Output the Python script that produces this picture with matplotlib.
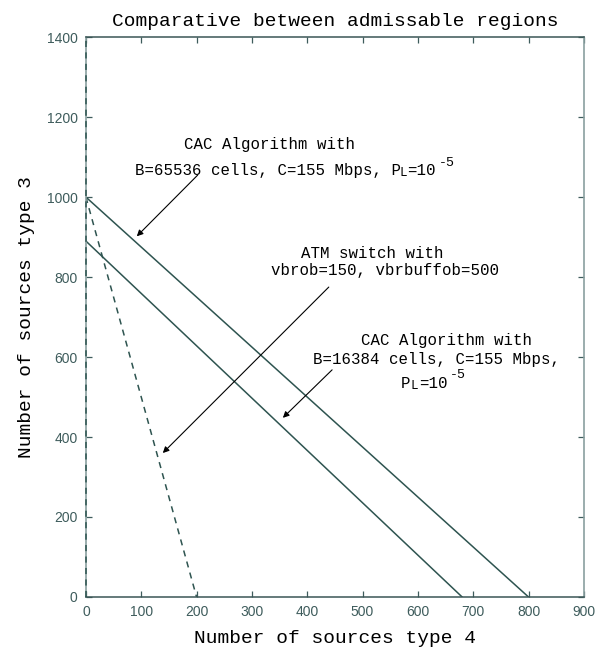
import matplotlib
matplotlib.use("Agg")
import matplotlib.pyplot as plt

# ---- data ----
x_cac65536 = [0, 800]
y_cac65536 = [1000, 0]
x_cac16384 = [0, 680]
y_cac16384 = [890, 0]
x_atm = [0, 200]
y_atm = [1000, 0]
x_atm_axis = [0, 0]
y_atm_axis = [0, 1400]

x_ticks = [0, 100, 200, 300, 400, 500, 600, 700, 800, 900]
y_ticks = [0, 200, 400, 600, 800, 1000, 1200, 1400]

title = "Comparative between admissable regions"
xlabel = "Number of sources type 4"
ylabel = "Number of sources type 3"

mono = "Liberation Mono"
line_col = "#2e5450"
tick_col = "#3e5c5c"

fig = plt.figure(figsize=(6.05, 6.54), dpi=100)
ax = fig.add_axes([0.142, 0.0872, 0.823, 0.856])

ax.plot(x_cac65536, y_cac65536, color=line_col, lw=1.1)
ax.plot(x_cac16384, y_cac16384, color=line_col, lw=1.1)
ax.plot(x_atm, y_atm, color=line_col, lw=1.1, ls=(0, (4, 3.5)))
ax.plot(x_atm_axis, y_atm_axis, color=line_col, lw=1.1, ls=(0, (4, 3.5)), clip_on=False, zorder=5)

ax.set_xlim(0, 900)
ax.set_ylim(0, 1400)
ax.set_xticks(x_ticks)
ax.set_yticks(y_ticks)
ax.tick_params(direction="in", length=4.5, width=0.9, color=tick_col,
               top=True, right=True, labelsize=10, labelcolor=tick_col, pad=6)
for lab in ax.get_xticklabels() + ax.get_yticklabels():
    lab.set_fontfamily("Liberation Sans")

for s in ["left", "right"]:
    ax.spines[s].set_color("#8aa0a0")
    ax.spines[s].set_linewidth(1.2)
for s in ["top", "bottom"]:
    ax.spines[s].set_color("#3b5656")
    ax.spines[s].set_linewidth(1.1)

ax.set_title(title, fontfamily=mono, fontsize=14, pad=8)
ax.set_xlabel(xlabel, fontfamily=mono, fontsize=14, labelpad=8)
ax.set_ylabel(ylabel, fontfamily=mono, fontsize=14, labelpad=8)

fs = 11.3
CW = 0.6  # monospace advance per em


def rich(x, y, segs, ha="left"):
    """segs: list of (text, size_factor, dy_points, gap_before_points)"""
    total = sum(len(t) * CW * fs * f + g for t, f, dy, g in segs)
    off = 0.0 if ha == "left" else -total / 2.0
    for t, f, dy, g in segs:
        off += g
        ax.annotate(t, xy=(x, y), xycoords="data", xytext=(off, dy),
                    textcoords="offset points", fontsize=fs * f,
                    fontfamily=mono, va="center", ha="left", color="black")
        off += len(t) * CW * fs * f


def pl_segs(prefix):
    return [(prefix + "P", 1.0, 0, 0), ("L", 0.8, -2.0, 0.6),
            ("=10", 1.0, 0, 0.6), ("-5", 0.85, 5.5, 2.0)]


tk = dict(fontfamily=mono, fontsize=fs, color="black", va="center")
# annotation 1
ax.text(332, 1132, "CAC Algorithm with", ha="center", **tk)
rich(88, 1067, pl_segs("B=65536 cells, C=155 Mbps, "), ha="left")
# annotation 2
ax.text(517, 860, "ATM switch with", ha="center", **tk)
ax.text(540, 817, "vbrob=150, vbrbuffob=500", ha="center", **tk)
# annotation 3
ax.text(652, 642, "CAC Algorithm with", ha="center", **tk)
ax.text(634, 595, "B=16384 cells, C=155 Mbps,", ha="center", **tk)
rich(628, 535, pl_segs(""), ha="center")

ap = dict(arrowstyle="-|>", color="black", lw=0.8, mutation_scale=9, shrinkA=0, shrinkB=0)
ax.annotate("", xy=(92, 902), xytext=(202, 1055), arrowprops=ap)
ax.annotate("", xy=(139, 360), xytext=(439, 775), arrowprops=ap)
ax.annotate("", xy=(356, 448), xytext=(445, 568), arrowprops=ap)

fig.savefig("out.png", dpi=100)
